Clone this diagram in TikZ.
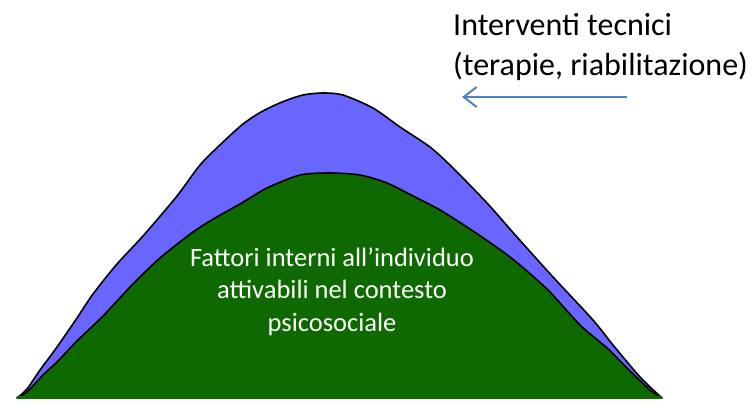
\documentclass[tikz,border=0pt]{standalone}
\usepackage{fontspec}
\setmainfont{Carlito}
\usetikzlibrary{arrows.meta}
\definecolor{moundblue}{RGB}{104,102,255}
\definecolor{moundgreen}{RGB}{14,106,0}
\definecolor{arrowblue}{RGB}{79,129,189}
\tikzset{
  outline/.style={draw=black, line width=1.6pt, line join=round},
  toplabel/.style={inner sep=0pt, align=left, font=\fontsize{32}{40}\selectfont, text=black},
  innerlabel/.style={inner sep=0pt, align=center, font=\fontsize{26.5}{32.5}\selectfont, text=white},
}
\begin{document}
\begin{tikzpicture}[x=1pt, y=-1pt]
\useasboundingbox (0,0) rectangle (752,405);
% blue mound
\path[fill=moundblue, outline] plot[smooth, tension=0.45] coordinates {
 (17,398) (27,389) (40,370) (57,347) (77,318) (93,294) (117,264) (143,236)
 (177,196) (200,165) (222,143) (243,124) (261,112) (282,102) (303,95) (323,93)
 (343,95) (373,108) (400,127) (430,147) (453,168) (487,203) (517,237)
 (553,277) (593,320) (613,345) (640,377) (662,398)} -- cycle;
% green mound
\path[fill=moundgreen, outline] plot[smooth, tension=0.45] coordinates {
 (17,398) (27,392) (43,375) (57,362) (77,341) (103,316) (133,284) (160,258)
 (193,232) (215,218) (240,204) (267,188) (300,175) (330,173) (360,175)
 (387,183) (413,196) (440,210) (473,231) (510,257) (547,289) (580,325)
 (607,348) (627,368) (650,390) (662,398)};
\fill[moundgreen] (17,396) rectangle (662,399);
% labels
\node[toplabel, anchor=base west] (tech) at (453,75) {Interventi tecnici\\(terapie, riabilitazione)};
\node[innerlabel, anchor=base] (fact) at (332,331) {Fattori interni all’individuo\\attivabili nel contesto\\psicosociale};
% arrow
\coordinate (arrS) at (627,97);
\coordinate (arrE) at (462,97);
\draw[arrowblue, line width=2pt, -{Straight Barb[length=13pt, width=20pt, line width=2pt]}] (arrS) -- (arrE);
\end{tikzpicture}
\end{document}
